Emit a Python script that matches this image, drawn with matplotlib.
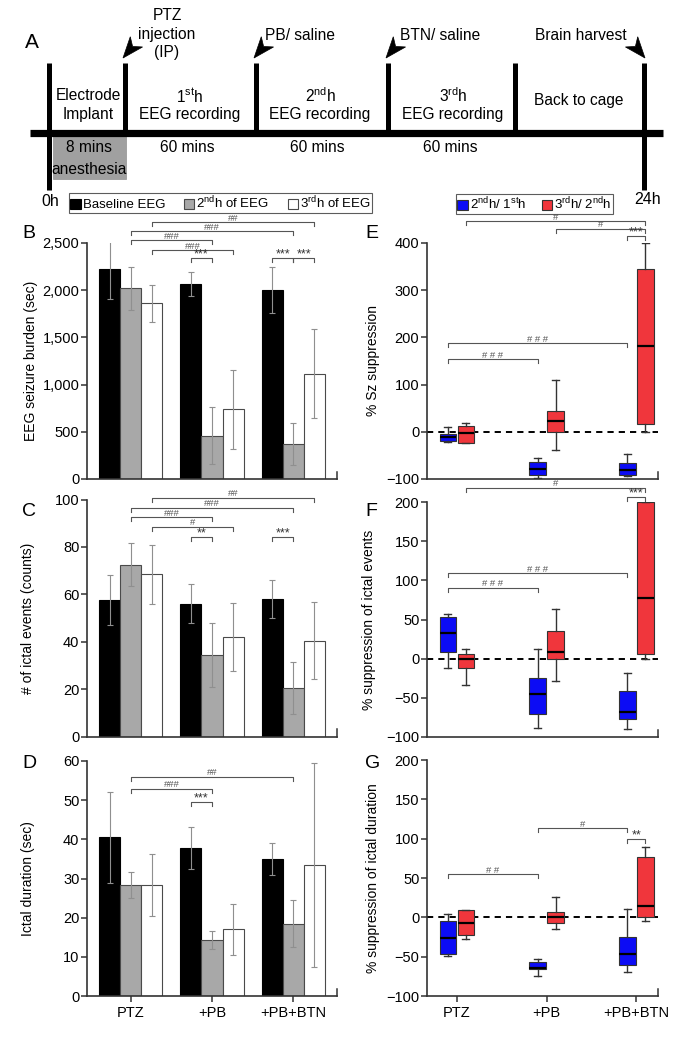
import matplotlib
matplotlib.use('Agg')
import matplotlib.pyplot as plt
from matplotlib.patches import Patch, Rectangle, Polygon
from matplotlib.ticker import StrMethodFormatter
import numpy as np

plt.rcParams['font.family'] = ['Liberation Sans', 'DejaVu Sans']
plt.rcParams['mathtext.fontset'] = 'custom'
plt.rcParams['mathtext.rm'] = 'Liberation Sans'
plt.rcParams['mathtext.it'] = 'Liberation Sans:italic'

# ---- data ----
groups = ['PTZ', '+PB', '+PB+BTN']
bar_labels = ['Baseline EEG', r'2$^{\rm nd}$h of EEG', r'3$^{\rm rd}$h of EEG']
box_labels = [r'2$^{\rm nd}$h/ 1$^{\rm st}$h', r'3$^{\rm rd}$h/ 2$^{\rm nd}$h']

# B: EEG seizure burden (sec), mean and error
burden_base = [2220, 2065, 2000]
burden_base_err = [310, 130, 243]
burden_2nd = [2020, 460, 370]
burden_2nd_err = [228, 298, 225]
burden_3rd = [1860, 740, 1115]
burden_3rd_err = [198, 418, 470]

# C: number of ictal events
events_base = [57.5, 56, 58]
events_base_err = [10.5, 8.3, 8]
events_2nd = [72.5, 34.5, 20.5]
events_2nd_err = [9, 13.5, 11]
events_3rd = [68.5, 42, 40.5]
events_3rd_err = [12.5, 14.3, 16.3]

# D: ictal duration (sec)
dur_base = [40.5, 37.8, 35]
dur_base_err = [11.7, 5.3, 4.1]
dur_2nd = [28.3, 14.3, 18.5]
dur_2nd_err = [3.4, 2.4, 6.1]
dur_3rd = [28.3, 17, 33.5]
dur_3rd_err = [8, 6.5, 26]

# E-G: boxes as [whislo, q1, med, q3, whishi] per group
sz_2v1 = [[-22.5, -19.8, -10.6, -5.5, 10.6], [-97, -90.5, -79, -65, -55], [-93, -90.5, -81, -67, -46]]
sz_3v2 = [[-24.6, -24.6, -2, 12.7, 17.8], [-39, 0, 22.7, 44.6, 109.8], [0, 16.3, 182.6, 345, 400]]
ev_2v1 = [[-11.5, 9, 33, 53.7, 57], [-89, -71, -45, -25, 12.4], [-89.5, -77, -67.8, -41.3, -18.7]]
ev_3v2 = [[-33.6, -11.9, -0.5, 6, 12.4], [-28, 0, 8.2, 35.8, 63.5], [0, 5.6, 78, 200, 200]]
du_2v1 = [[-49, -47, -26.8, -4.7, 3.8], [-74.8, -66, -65, -57, -53.5], [-69.3, -60.8, -46.8, -25.5, 10.6]]
du_3v2 = [[-27.6, -22.5, -7.6, 9.3, 9.3], [-15.3, -7.6, 0, 6.4, 25.5], [-4.3, 0, 14.4, 76.4, 89]]

# significance brackets: (label, (group, series), (group, series), y)
sig_B = [('##', (0, 2), (2, 2), 2720), ('###', (0, 1), (2, 1), 2625), ('###', (0, 1), (1, 1), 2530),
         ('###', (0, 2), (1, 2), 2424), ('***', (1, 0), (1, 1), 2340), ('***', (2, 0), (2, 1), 2340),
         ('***', (2, 1), (2, 2), 2340)]
sig_C = [('##', (0, 2), (2, 2), 100.8), ('###', (0, 1), (2, 1), 96.5), ('###', (0, 1), (1, 1), 92.6),
         ('#', (0, 2), (1, 2), 88.5), ('**', (1, 0), (1, 1), 84.3), ('***', (2, 0), (2, 1), 84.3)]
sig_D = [('##', (0, 1), (2, 1), 56), ('###', (0, 1), (1, 1), 52.9), ('***', (1, 0), (1, 1), 49.6)]
sig_E = [('#', (0, 1), (2, 1), 446), ('#', (1, 1), (2, 1), 430), ('***', (2, 0), (2, 1), 414),
         ('# # #', (0, 0), (2, 0), 187.7), ('# # #', (0, 0), (1, 0), 154)]
sig_F = [('#', (0, 1), (2, 1), 218), ('***', (2, 0), (2, 1), 206),
         ('# # #', (0, 0), (2, 0), 109), ('# # #', (0, 0), (1, 0), 90.8)]
sig_G = [('# #', (0, 0), (1, 0), 54.8), ('#', (1, 0), (2, 0), 113.4), ('**', (2, 0), (2, 1), 99.7)]

W, H = 673, 1041
fig = plt.figure(figsize=(W / 100, H / 100), dpi=100)

SPINE = '#333333'
BAR_W = 0.26
BOX_OFF = 0.1
bar_colors = ['black', '#a8a8a8', 'white']
bar_edges = ['black', '#4a4a4a', '#4a4a4a']
box_colors = ['#0c0cf5', '#f0363c']


def px_axes(left, top, right, bottom):
    return fig.add_axes([left / W, 1 - bottom / H, (right - left) / W, (bottom - top) / H])


# ---- panel A: timeline, drawn in pixel coords ----
ax_t = fig.add_axes([0, 0, 1, 1])
ax_t.set_xlim(0, W)
ax_t.set_ylim(H, 0)
ax_t.axis('off')

line_x = [49, 125, 256, 388, 515, 644]
ax_t.plot([30, 663], [133, 133], color='k', lw=5.2, solid_capstyle='butt')
for i, x in enumerate(line_x):
    bot = 190 if i in (0, len(line_x) - 1) else 133
    ax_t.plot([x, x], [63, bot], color='k', lw=3.6, solid_capstyle='butt')

ax_t.add_patch(Rectangle((53, 136), 73, 43, facecolor='#a0a0a0', edgecolor='#909090', lw=0.5))
tfs = 11.2
ax_t.text(88, 95, 'Electrode', ha='center', va='center', fontsize=tfs)
ax_t.text(88, 114, 'Implant', ha='center', va='center', fontsize=tfs)
for x, sup in zip([190, 320, 453], [r'1$^{\rm st}$h', r'2$^{\rm nd}$h', r'3$^{\rm rd}$h']):
    ax_t.text(x, 96, sup, ha='center', va='center', fontsize=tfs)
    ax_t.text(x, 114, 'EEG recording', ha='center', va='center', fontsize=tfs)
    ax_t.text(x - 3, 148, '60 mins', ha='center', va='center', fontsize=tfs)
ax_t.text(579, 101, 'Back to cage', ha='center', va='center', fontsize=tfs)
ax_t.text(89, 148, '8 mins', ha='center', va='center', fontsize=tfs)
ax_t.text(89, 170, 'anesthesia', ha='center', va='center', fontsize=tfs)
ax_t.text(167, 34, 'PTZ\ninjection\n(IP)', ha='center', va='center', fontsize=tfs, linespacing=1.27)
ax_t.text(300, 35, 'PB/ saline', ha='center', va='center', fontsize=tfs)
ax_t.text(440, 35, 'BTN/ saline', ha='center', va='center', fontsize=tfs)
ax_t.text(581, 35, 'Brain harvest', ha='center', va='center', fontsize=tfs)
ax_t.text(50, 201, '0h', ha='center', va='center', fontsize=11.5)
ax_t.text(648, 200, '24h', ha='center', va='center', fontsize=11.5)


def dart(tip, direction, length=21, half=8, notch=6):
    d = np.array(direction, float)
    d /= np.hypot(*d)
    p = np.array([-d[1], d[0]])
    t = np.array(tip, float)
    pts = [t, t - length * d + half * p, t - (length - notch) * d, t - length * d - half * p]
    ax_t.add_patch(Polygon(pts, closed=True, facecolor='k', edgecolor='k', lw=0.5))


for tip in [(123, 58), (254, 58), (386, 58)]:
    dart(tip, (-0.64, 0.77))
dart((645, 58), (0.64, 0.77))

for lab, x, y, fs in [('A', 32, 42, 15), ('B', 29, 233, 14), ('C', 29, 512, 14), ('D', 29, 763, 14),
                      ('E', 372, 233, 14), ('F', 371, 512, 14), ('G', 373, 763, 14)]:
    ax_t.text(x, y, lab, ha='center', va='center', fontsize=fs)

# ---- legends ----
bar_handles = [Patch(facecolor=c, edgecolor=e, lw=0.8) for c, e in zip(bar_colors, bar_edges)]
leg1 = fig.legend(bar_handles, bar_labels, loc='center', bbox_to_anchor=(220.5 / W, 1 - 203 / H),
                  ncol=3, fontsize=9.5, frameon=True, fancybox=False, edgecolor='#333333',
                  handlelength=0.8, handleheight=0.8, handletextpad=0.15, columnspacing=1.4,
                  borderpad=0.12, borderaxespad=0)
leg1.get_frame().set_linewidth(0.8)
box_handles = [Patch(facecolor=c, edgecolor='#333333', lw=0.8) for c in box_colors]
leg2 = fig.legend(box_handles, box_labels, loc='center', bbox_to_anchor=(534.5 / W, 1 - 204 / H),
                  ncol=2, fontsize=9.5, frameon=True, fancybox=False, edgecolor='#333333',
                  handlelength=0.8, handleheight=0.8, handletextpad=0.15, columnspacing=1.2,
                  borderpad=0.12, borderaxespad=0)
leg2.get_frame().set_linewidth(0.8)


def style_axes(ax, xlim, ylim, yticks):
    ax.set_xlim(*xlim)
    ax.set_ylim(*ylim)
    ax.set_yticks(yticks)
    for s in ['top', 'right']:
        ax.spines[s].set_visible(False)
    for s in ['left', 'bottom']:
        ax.spines[s].set_color(SPINE)
        ax.spines[s].set_linewidth(1.2)
    ax.tick_params(axis='y', direction='out', length=4, width=1.1, color=SPINE, labelsize=10.5, pad=1.5)
    ax.tick_params(axis='x', direction='out', length=4, width=1.1, color=SPINE, labelsize=10.5, pad=3)
    ax.axvline(xlim[1], ymin=0, ymax=0.03, color=SPINE, lw=1.1, clip_on=False)


def brackets(ax, sigs, xpos, ax_h_px):
    lo, hi = ax.get_ylim()
    upp = (hi - lo) / ax_h_px
    for lab, a, b, y in sigs:
        x1, x2 = xpos(*a), xpos(*b)
        ax.plot([x1, x1, x2, x2], [y - 4 * upp, y, y, y - 4 * upp], color='#555555', lw=0.8, clip_on=False)
        star = '*' in lab
        ax.text((x1 + x2) / 2, y - (2.5 if star else 0.5) * upp, lab, ha='center', va='bottom',
                fontsize=9 if star else 6.8, color='#333333' if star else '#555555', clip_on=False)


def bar_x(g, s):
    return g + (s - 1) * BAR_W


def bar_panel(box, means, errs, ylim, yticks, ylabel, sigs, xlabels, lab_x):
    ax = px_axes(*box)
    x = np.arange(len(groups))
    for s in range(3):
        ax.bar(x + (s - 1) * BAR_W, means[s], BAR_W, color=bar_colors[s], edgecolor=bar_edges[s],
               lw=0.8, zorder=2)
        ax.errorbar(x + (s - 1) * BAR_W, means[s], yerr=errs[s], fmt='none', ecolor='#8f8f8f',
                    elinewidth=0.8, capsize=2, capthick=0.8, zorder=3)
    style_axes(ax, (-0.54, 2.54), ylim, yticks)
    ax.set_xticks(x)
    if xlabels:
        ax.set_xticklabels(groups)
    else:
        ax.tick_params(axis='x', length=0, labelbottom=False)
    ax.set_ylabel(ylabel, fontsize=10, va='center')
    ax.yaxis.set_label_coords(lab_x, 0.5)
    brackets(ax, sigs, bar_x, box[3] - box[1])
    return ax


def box_x(g, s):
    return g + (s * 2 - 1) * BOX_OFF


def box_panel(box, blue, red, ylim, yticks, ylabel, sigs, xlabels, lab_x):
    ax = px_axes(*box)
    ax.axhline(0, color='k', lw=1.4, ls=(0, (3.2, 2.6)), zorder=1)
    x = np.arange(len(groups))
    for s, data in enumerate([blue, red]):
        stats = [dict(whislo=d[0], q1=d[1], med=d[2], q3=d[3], whishi=d[4], fliers=[]) for d in data]
        ax.bxp(stats, positions=x + (s * 2 - 1) * BOX_OFF, widths=0.18, patch_artist=True,
               showfliers=False, manage_ticks=False, capwidths=0.08,
               boxprops=dict(facecolor=box_colors[s], edgecolor='#333333', lw=0.8),
               medianprops=dict(color='black', lw=1.6),
               whiskerprops=dict(color='#333333', lw=1.0),
               capprops=dict(color='#333333', lw=1.0), zorder=2)
    style_axes(ax, (-0.33, 2.24), ylim, yticks)
    ax.set_xticks(x)
    if xlabels:
        ax.set_xticklabels(groups)
    else:
        ax.tick_params(axis='x', length=0, labelbottom=False)
    ax.set_ylabel(ylabel, fontsize=10, va='center')
    ax.yaxis.set_label_coords(lab_x, 0.5)
    brackets(ax, sigs, box_x, box[3] - box[1])
    return ax


axB = bar_panel((87, 243, 337, 479), [burden_base, burden_2nd, burden_3rd],
                [burden_base_err, burden_2nd_err, burden_3rd_err], (0, 2500),
                [0, 500, 1000, 1500, 2000, 2500], 'EEG seizure burden (sec)', sig_B, False, -0.225)
axB.yaxis.set_major_formatter(StrMethodFormatter('{x:,.0f}'))
bar_panel((87, 499.5, 337, 736.5), [events_base, events_2nd, events_3rd],
          [events_base_err, events_2nd_err, events_3rd_err], (0, 100),
          [0, 20, 40, 60, 80, 100], '# of ictal events (counts)', sig_C, False, -0.236)
bar_panel((87, 761, 337, 996), [dur_base, dur_2nd, dur_3rd],
          [dur_base_err, dur_2nd_err, dur_3rd_err], (0, 60),
          [0, 10, 20, 30, 40, 50, 60], 'Ictal duration (sec)', sig_D, True, -0.236)

box_panel((427, 243, 658, 479), sz_2v1, sz_3v2, (-100, 400), [-100, 0, 100, 200, 300, 400],
          '% Sz suppression', sig_E, False, -0.232)
box_panel((427, 502, 658, 737), ev_2v1, ev_3v2, (-100, 200), [-100, -50, 0, 50, 100, 150, 200],
          '% suppression of ictal events', sig_F, False, -0.25)
box_panel((427, 760, 658, 996), du_2v1, du_3v2, (-100, 200), [-100, -50, 0, 50, 100, 150, 200],
          '% suppression of ictal duration', sig_G, True, -0.232)

fig.savefig('out.png', dpi=100)
